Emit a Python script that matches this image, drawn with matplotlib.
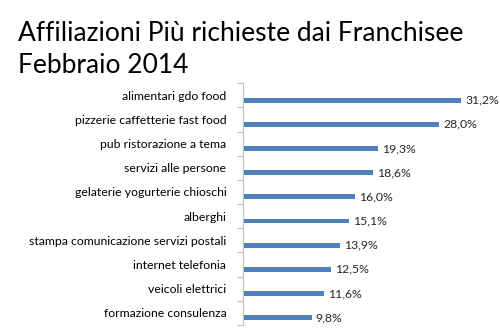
import matplotlib
matplotlib.use("Agg")
import matplotlib.pyplot as plt
import numpy as np

categories = [
    "alimentari gdo food",
    "pizzerie caffetterie fast food",
    "pub ristorazione a tema",
    "servizi alle persone",
    "gelaterie yogurterie chioschi",
    "alberghi",
    "stampa comunicazione servizi postali",
    "internet telefonia",
    "veicoli elettrici",
    "formazione consulenza",
]
values = [31.2, 28.0, 19.3, 18.6, 16.0, 15.1, 13.9, 12.5, 11.6, 9.8]
value_labels = ["31,2%", "28,0%", "19,3%", "18,6%", "16,0%", "15,1%", "13,9%", "12,5%", "11,6%", "9,8%"]
title = "Affiliazioni Più richieste dai Franchisee\nFebbraio 2014"

plt.rcParams['font.family'] = ['Lato', 'DejaVu Sans']

fig = plt.figure(figsize=(5, 3.34), dpi=100)
ax = fig.add_axes([0.486, 0.027, 0.49, 0.724])

n = len(categories)
pos = np.arange(n)
ax.barh(pos + 0.2, values, height=0.2, color="#4F81BD")
for p, v, lab in zip(pos, values, value_labels):
    ax.annotate(lab, (v, p + 0.2), xytext=(3, 0), textcoords="offset points",
                va="center", ha="left", fontsize=8.8, color="#262626")

ax.set_xlim(0, 35)
ax.set_ylim(n - 0.5, -0.5)
ax.set_yticks(pos)
ax.set_yticklabels(categories, fontsize=8.8, color="#000000")
ax.set_yticks(np.arange(n + 1) - 0.5, minor=True)
ax.tick_params(axis="y", which="major", length=0, pad=12)
ax.tick_params(axis="y", which="minor", length=4, color="#BFBFBF", width=0.8)
ax.set_xticks([])
for s in ["top", "right", "bottom"]:
    ax.spines[s].set_visible(False)
ax.spines["left"].set_color("#BFBFBF")
ax.spines["left"].set_linewidth(0.8)

fig.text(0.036, 0.781, title, fontsize=19, ha="left", va="baseline", color="#000000",
         linespacing=1.36)

fig.savefig("out.png", dpi=100)
